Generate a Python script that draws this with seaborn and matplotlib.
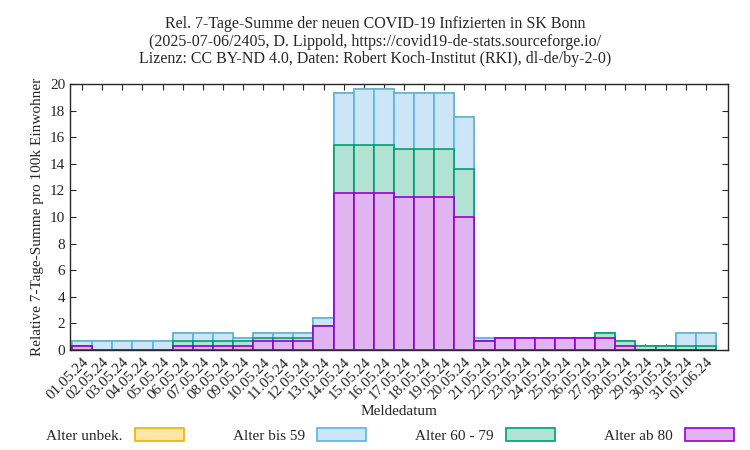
import numpy as np
import pandas as pd
import seaborn as sns
import matplotlib.pyplot as plt
from matplotlib.patches import Patch

dates = ["01.05.24", "02.05.24", "03.05.24", "04.05.24", "05.05.24", "06.05.24", "07.05.24", "08.05.24",
         "09.05.24", "10.05.24", "11.05.24", "12.05.24", "13.05.24", "14.05.24", "15.05.24", "16.05.24",
         "17.05.24", "18.05.24", "19.05.24", "20.05.24", "21.05.24", "22.05.24", "23.05.24", "24.05.24",
         "25.05.24", "26.05.24", "27.05.24", "28.05.24", "29.05.24", "30.05.24", "31.05.24", "01.06.24"]
# cumulative (stacked) tops
ab80 = [0.33, 0, 0, 0, 0, 0.33, 0.33, 0.33, 0.33, 0.65, 0.65, 0.65, 1.83, 11.8, 11.8, 11.8,
        11.5, 11.5, 11.5, 10.0, 0.65, 0.93, 0.93, 0.93, 0.93, 0.93, 0.93, 0.33, 0, 0, 0, 0]
bis79 = [0.33, 0, 0, 0, 0, 0.65, 0.65, 0.65, 0.65, 0.93, 0.93, 0.93, 1.83, 15.4, 15.4, 15.4,
         15.1, 15.1, 15.1, 13.6, 0.65, 0.93, 0.93, 0.93, 0.93, 0.93, 1.25, 0.65, 0.33, 0.33, 0.33, 0.33]
bis59 = [0.65, 0.65, 0.65, 0.65, 0.65, 1.25, 1.25, 1.25, 0.93, 1.25, 1.25, 1.25, 2.43, 19.3, 19.6, 19.6,
         19.3, 19.3, 19.3, 17.5, 0.93, 0.93, 0.93, 0.93, 0.93, 0.93, 1.25, 0.65, 0.33, 0.33, 1.25, 1.25]
unbek = bis59

df = pd.DataFrame({"Meldedatum": dates, "unbek": unbek, "bis59": bis59, "bis79": bis79, "ab80": ab80})

sns.set_style("ticks")
plt.rcParams["font.family"] = ["Liberation Serif", "DejaVu Serif"]
plt.rcParams["font.size"] = 11

fig = plt.figure(figsize=(7.5, 4.5), dpi=100)
ax = fig.add_axes([70 / 750, 100 / 450, 658 / 750, 266 / 450])

layers = [("unbek", "#fde6a8", "#f0b000"),
          ("bis59", "#cce6f8", "#56b4e9"),
          ("bis79", "#b2e2d4", "#009e73"),
          ("ab80", "#e0b4f0", "#9400d3")]
for col, fc, ec in layers:
    sns.barplot(data=df, x="Meldedatum", y=col, color=fc, edgecolor=ec, linewidth=1.2,
                width=1.0, saturation=1, ax=ax)

ax.set_ylim(0, 20)
ax.set_xlim(-0.6, 32.1)
ax.set_yticks(range(0, 21, 2))
ax.set_xticks(range(len(dates)))
ax.set_xticklabels(dates, rotation=45, ha="right", rotation_mode="anchor")
ax.tick_params(direction="in", top=True, right=True, length=4)
ax.tick_params(axis="x", pad=4)
for s in ax.spines.values():
    s.set_linewidth(1)
ax.set_xlabel("Meldedatum", labelpad=2)
ax.set_ylabel("Relative 7-Tage-Summe pro 100k Einwohner")
fig.suptitle("Rel. 7-Tage-Summe der neuen COVID-19 Infizierten in SK Bonn\n"
             "(2025-07-06/2405, D. Lippold, https://covid19-de-stats.sourceforge.io/\n"
             "Lizenz: CC BY-ND 4.0, Daten: Robert Koch-Institut (RKI), dl-de/by-2-0)",
             y=0.965, fontsize=11.5, linespacing=1.15)

names = ["Alter unbek.", "Alter bis 59", "Alter 60 - 79", "Alter ab 80"]
handles = [Patch(facecolor=fc, edgecolor=ec, linewidth=1.2) for _, fc, ec in layers]
fig.legend(handles, names, loc="lower center", ncol=4, frameon=False, markerfirst=False,
           bbox_to_anchor=(0.52, -0.015), handlelength=3.2, handleheight=0.9, columnspacing=3.2)

fig.savefig("out.png", dpi=100)
